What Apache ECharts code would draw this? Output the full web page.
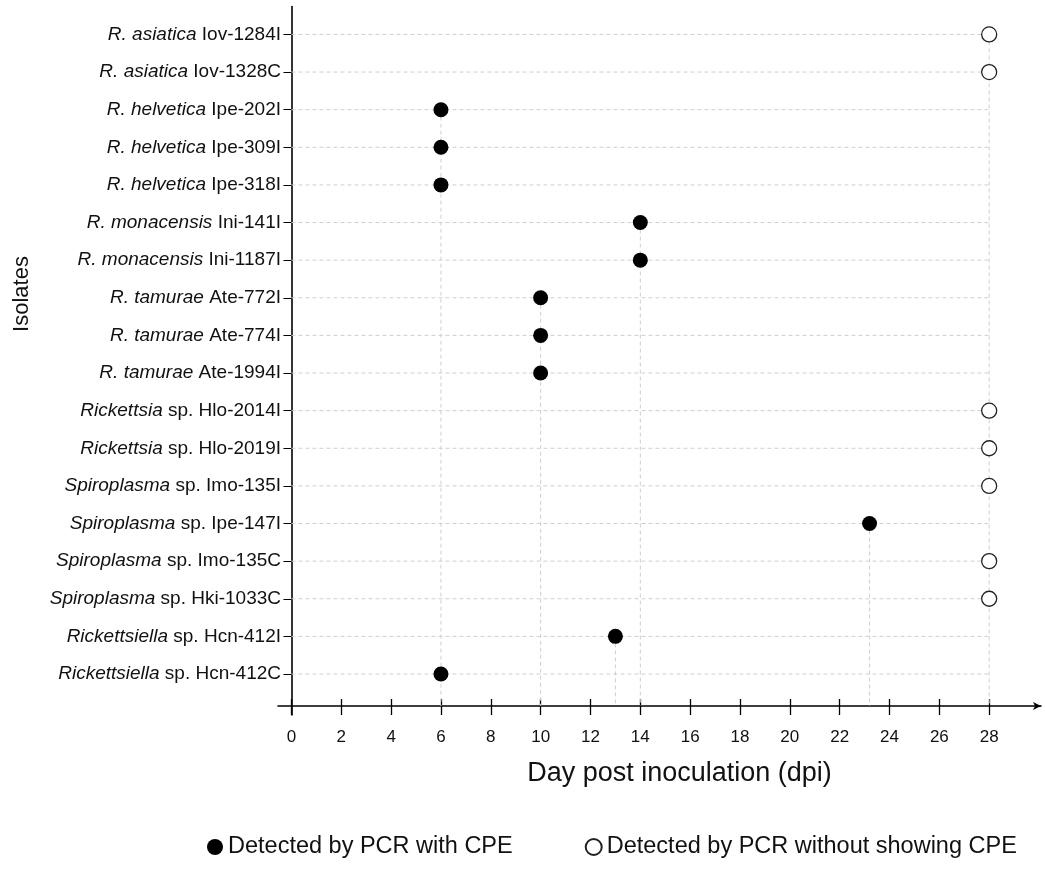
<!DOCTYPE html>
<html><head><meta charset="utf-8">
<script src="https://cdn.jsdelivr.net/npm/echarts@6/dist/echarts.min.js"></script>
<style>html,body{margin:0;padding:0;background:#fff}#c{width:1045px;height:877px}</style>
</head><body><div id="c"></div>
<script>
// ---- data (top row first) ----
const speciesItalic = ['R. asiatica','R. asiatica','R. helvetica','R. helvetica','R. helvetica','R. monacensis','R. monacensis','R. tamurae','R. tamurae','R. tamurae','Rickettsia','Rickettsia','Spiroplasma','Spiroplasma','Spiroplasma','Spiroplasma','Rickettsiella','Rickettsiella'];
const speciesPlain = ['','','','','','','','','','',' sp.',' sp.',' sp.',' sp.',' sp.',' sp.',' sp.',' sp.'];
const isolateCodes = ['Iov-1284I','Iov-1328C','Ipe-202I','Ipe-309I','Ipe-318I','Ini-141I','Ini-1187I','Ate-772I','Ate-774I','Ate-1994I','Hlo-2014I','Hlo-2019I','Imo-135I','Ipe-147I','Imo-135C','Hki-1033C','Hcn-412I','Hcn-412C'];
const dpiValues = [28,28,6,6,6,14,14,10,10,10,28,28,28,23.2,28,28,13,6];
const withCPE = [false,false,true,true,true,true,true,true,true,true,false,false,false,true,false,false,true,true];
const xTicks = [0,2,4,6,8,10,12,14,16,18,20,22,24,26,28];
const seriesNames = ['Detected by PCR with CPE','Detected by PCR without showing CPE'];
const xTitle = 'Day post inoculation (dpi)';
const yTitle = 'Isolates';

// ---- build ----
const n = isolateCodes.length;
const rowPos = isolateCodes.map((_, i) => n - i);
const labelByPos = {};
isolateCodes.forEach((c, i) => { labelByPos[rowPos[i]] = '{i|' + speciesItalic[i] + '}' + speciesPlain[i] + ' ' + c; });
const cpeData = [], noCpeData = [];
dpiValues.forEach((d, i) => (withCPE[i] ? cpeData : noCpeData).push([d, rowPos[i]]));
const firstRowOfX = {};
dpiValues.forEach((d, i) => { if (!(d in firstRowOfX)) firstRowOfX[d] = i; });
const guideData = dpiValues.map((d, i) => [d, rowPos[i], firstRowOfX[d] === i ? 1 : 0]);
const X_AXIS_OFFSET = -9;
const FONT = '"Liberation Sans", Arial, sans-serif';
const dash = { stroke: '#cfcfcf', lineWidth: 1, lineDash: [4, 3] };

const chart = echarts.init(document.getElementById('c'), null, { renderer: 'canvas' });
chart.setOption({
  animation: false,
  backgroundColor: '#fff',
  textStyle: { fontFamily: FONT, color: '#111' },
  grid: { left: 278, right: 4, top: 6.6, bottom: 162, containLabel: false, outerBoundsMode: 'none' },
  xAxis: [{
    type: 'value', min: -0.54, max: 30.08, position: 'bottom', offset: X_AXIS_OFFSET,
    axisLine: { onZero: false, lineStyle: { color: '#000', width: 1.6 }, symbol: ['none', 'arrow'], symbolSize: [6, 8] },
    axisTick: { show: true, customValues: xTicks, length: 9, lineStyle: { color: '#000', width: 1.3 } },
    axisLabel: { customValues: xTicks, fontSize: 17, color: '#111', margin: 23, fontFamily: FONT },
    splitLine: { show: false },
    name: xTitle, nameLocation: 'middle', nameGap: 54,
    nameTextStyle: { fontSize: 27, color: '#111', fontFamily: FONT, padding: [0, 0, 0, 40] }
  }, {
    type: 'value', min: -0.54, max: 30.08, position: 'bottom', offset: X_AXIS_OFFSET,
    axisLine: { show: false, onZero: false },
    axisTick: { show: true, inside: true, customValues: xTicks, length: 7, lineStyle: { color: '#000', width: 1.3 } },
    axisLabel: { show: false },
    splitLine: { show: false }
  }],
  yAxis: {
    type: 'value', min: -0.09, max: 18.74,
    axisLine: { onZero: true, lineStyle: { color: '#000', width: 1.6 } },
    axisTick: { show: true, customValues: rowPos, length: 8, lineStyle: { color: '#000', width: 1 } },
    axisLabel: {
      customValues: rowPos, fontSize: 19, color: '#111', margin: -3, fontFamily: FONT,
      formatter: v => labelByPos[Math.round(v)] || '',
      rich: { i: { fontStyle: 'italic', fontSize: 19, color: '#111', fontFamily: FONT } }
    },
    splitLine: { show: false }
  },
  legend: {
    left: 202, top: 830, itemWidth: 16, itemHeight: 16, itemGap: 72,
    textStyle: { fontSize: 23.5, color: '#111', fontFamily: FONT },
    data: [{ name: seriesNames[0], icon: 'circle' }, { name: seriesNames[1], icon: 'circle' }],
    selectedMode: false
  },
  graphic: [{
    type: 'text', x: 22, y: 294, rotation: Math.PI / 2,
    style: { text: yTitle, fontSize: 22, fill: '#111', fontFamily: FONT, textAlign: 'center', textVerticalAlign: 'middle' }
  }],
  series: [{
    type: 'custom', silent: true, z: 1, data: guideData, encode: { x: 0, y: 1 },
    renderItem: (params, api) => {
      const x = api.value(0), y = api.value(1), top = api.value(2);
      const a = api.coord([xTicks[0], y]), b = api.coord([xTicks[xTicks.length - 1], y]);
      const children = [{ type: 'line', shape: { x1: a[0], y1: a[1], x2: b[0], y2: b[1] }, style: dash }];
      if (top) {
        const p = api.coord([x, y]);
        const bottom = params.coordSys.y + params.coordSys.height + X_AXIS_OFFSET;
        children.push({ type: 'line', shape: { x1: p[0], y1: p[1], x2: p[0], y2: bottom }, style: dash });
      }
      return { type: 'group', children };
    }
  }, {
    name: seriesNames[0], type: 'scatter', z: 3, data: cpeData, symbol: 'circle', symbolSize: 15,
    itemStyle: { color: '#000', opacity: 1 }
  }, {
    name: seriesNames[1], type: 'scatter', z: 3, data: noCpeData, symbol: 'circle', symbolSize: 15,
    itemStyle: { color: '#fff', borderColor: '#222', borderWidth: 1.3, opacity: 1 }
  }]
});
</script></body></html>
